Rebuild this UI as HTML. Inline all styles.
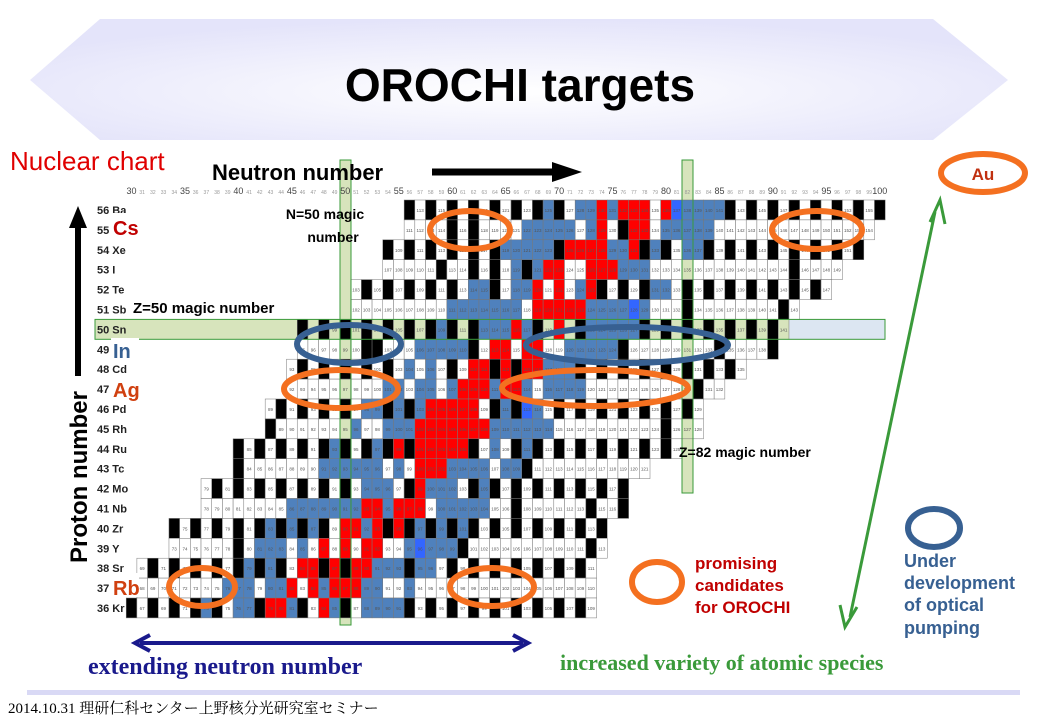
<!DOCTYPE html>
<html><head><meta charset="utf-8"><style>
html,body{margin:0;padding:0;background:#fff;width:1040px;height:720px;overflow:hidden}
svg{display:block}
</style></head><body>
<svg id="s" width="1040" height="720" viewBox="0 0 1040 720" xmlns="http://www.w3.org/2000/svg" font-family="Liberation Sans, sans-serif">
<defs>
<radialGradient id="bg" cx="50%" cy="60%" r="60%">
<stop offset="0" stop-color="#ffffff"/><stop offset="1" stop-color="#e4e4fa"/></radialGradient>
</defs>
<polygon points="100,19 933,19 1008,80 933,140 100,140 30,80" fill="url(#bg)"/>
<text x="520" y="101" font-size="46" font-weight="bold" text-anchor="middle">OROCHI targets</text>
<g id="cells"></g>
<g id="over"></g>
</svg>
<script>
var s=document.getElementById('cells'),NS='http://www.w3.org/2000/svg';
function el(t,a,p,txt){var e=document.createElementNS(NS,t);for(var k in a)e.setAttribute(k,a[k]);if(txt)e.textContent=txt;(p||s).appendChild(e);return e;}
function L(N){return 340+(N-50)*10.69;}
function T(Z){return 200+(56-Z)*19.9;}
el('rect',{x:340,y:160,width:11,height:465,fill:'#d7e4bc'});
el('rect',{x:682,y:160,width:11,height:333,fill:'#d7e4bc'});
el('rect',{x:95,y:T(50),width:790,height:19.9,fill:'#d7e4bc'});
el('rect',{x:L(92),y:T(50),width:885-L(92),height:19.9,fill:'#dce6f2'});
for(var N=30;N<=100;N++){var b=N%5==0;el('text',{x:L(N)+5.3,y:194,'font-size':b?9:5,'text-anchor':'middle',fill:b?'#444':'#999'},null,''+N);}
var rows={56:[56,100],55:[56,99],54:[54,98],53:[54,96],52:[51,95],51:[51,92],50:[46,91],49:[46,90],48:[45,87],47:[45,85],46:[43,83],45:[43,83],44:[40,81],43:[40,78],42:[37,76],41:[37,76],40:[34,74],39:[34,74],38:[31,73],37:[31,73],36:[30,73]};
var seed=11;function r(){seed=(seed*1103515245+12345)%2147483648;return seed/2147483648;}
var names={56:'Ba',55:'',54:'Xe',53:'I',52:'Te',51:'Sb',50:'Sn',49:'',48:'Cd',47:'',46:'Pd',45:'Rh',44:'Ru',43:'Tc',42:'Mo',41:'Nb',40:'Zr',39:'Y',38:'Sr',37:'',36:'Kr'};
for(var Z=56;Z>=36;Z--){
 var y=T(Z);el('text',{x:97,y:y+14,'font-size':11,'font-weight':'bold',fill:'#222'},null,Z+' '+names[Z]);
 var nc=46+(Z-36)*1.55;
 for(var N=rows[Z][0];N<=rows[Z][1];N++){
  var d=Math.abs(N-nc),c;var rr=r();
  var stable=(Z%2==0&&N%2==0);
  if(d<=3.5&&rr<0.6)c='#ff0000';
  else if(d<=9.5&&rr<0.75&&!(stable&&r()<0.5))c=(r()<0.03?'#3366ff':'#4f81bd');
  else if(stable)c='#000';
  else if(Z%2==1&&r()<0.08)c='#000';
  else c=(Z==50||N==50||N==82)?'#d7e4bc':'#fff';
  el('rect',{x:L(N),y:y,width:10.69,height:19.9,fill:c,stroke:'#777','stroke-width':0.5});
  if(c!='#000')el('text',{x:L(N)+5.3,y:y+12,'font-size':4.5,'text-anchor':'middle',fill:'#555'},null,''+(N+Z));
 }
}
var o=document.getElementById('over');
el('rect',{x:340,y:160,width:11,height:465,fill:'none',stroke:'#3a9a3a','stroke-width':1},o);
el('rect',{x:682,y:160,width:11,height:333,fill:'none',stroke:'#3a9a3a','stroke-width':1},o);
el('rect',{x:95,y:T(50),width:790,height:19.9,fill:'none',stroke:'#3a9a3a','stroke-width':1},o);
var ov='<text x="10" y="170" font-size="26" fill="#e00000">Nuclear chart</text>'+
'<text x="212" y="180" font-size="22" font-weight="bold">Neutron number</text>'+
'<line x1="432" y1="172" x2="555" y2="172" stroke="#000" stroke-width="7"/><polygon points="552,162 582,172 552,182" fill="#000"/>'+
'<text x="325" y="219" font-size="14" font-weight="bold" text-anchor="middle">N=50 magic</text><text x="333" y="242" font-size="14" font-weight="bold" text-anchor="middle">number</text>'+
'<text x="133" y="313" font-size="15" font-weight="bold">Z=50 magic number</text>'+
'<text x="679" y="457" font-size="14" font-weight="bold">Z=82 magic number</text>'+
'<rect x="111" y="213" width="28" height="22" fill="#fff"/><text x="113" y="235" font-size="20" font-weight="bold" fill="#c00000">Cs</text>'+
'<rect x="111" y="338" width="28" height="24" fill="#fff"/><text x="113" y="358" font-size="20" font-weight="bold" fill="#376092">In</text>'+
'<text x="113" y="397" font-size="20" font-weight="bold" fill="#d04010">Ag</text>'+
'<rect x="111" y="573" width="28" height="24" fill="#fff"/><text x="113" y="595" font-size="20" font-weight="bold" fill="#d04010">Rb</text>'+
'<g fill="none" stroke-width="6">'+
'<ellipse cx="470" cy="230" rx="40" ry="19" stroke="#f47020"/>'+
'<ellipse cx="817" cy="230" rx="45" ry="19" stroke="#f47020"/>'+
'<ellipse cx="349" cy="344" rx="52" ry="19" stroke="#376092"/>'+
'<ellipse cx="627" cy="345" rx="101" ry="18" stroke="#376092"/>'+
'<ellipse cx="341" cy="389" rx="57" ry="19" stroke="#f47020"/>'+
'<ellipse cx="595" cy="388" rx="93" ry="18" stroke="#f47020"/>'+
'<ellipse cx="202" cy="587" rx="33" ry="19" stroke="#f47020"/>'+
'<ellipse cx="492" cy="587" rx="42" ry="19" stroke="#f47020"/>'+
'<ellipse cx="983" cy="173" rx="42" ry="19" stroke="#f47020"/>'+
'<ellipse cx="657" cy="582" rx="25" ry="20" stroke="#f47020"/>'+
'<ellipse cx="934" cy="528" rx="26" ry="19" stroke="#376092"/></g>'+
'<text x="983" y="180" font-size="17" font-weight="bold" fill="#c03010" text-anchor="middle">Au</text>'+
'<line x1="78" y1="225" x2="78" y2="376" stroke="#000" stroke-width="6"/><polygon points="69,228 78,206 87,228" fill="#000"/>'+
'<text transform="translate(87,563) rotate(-90)" font-size="24" font-weight="bold">Proton number</text>'+
'<line x1="935" y1="212" x2="850" y2="617" stroke="#3a9a3a" stroke-width="3"/>'+
'<polyline points="930,222 940,200 945,224" fill="none" stroke="#3a9a3a" stroke-width="3"/>'+
'<polyline points="840,605 845,627 857,607" fill="none" stroke="#3a9a3a" stroke-width="3"/>'+
'<line x1="140" y1="643" x2="523" y2="643" stroke="#1a1a8c" stroke-width="4"/>'+
'<polyline points="150,635 135,643 150,651" fill="none" stroke="#1a1a8c" stroke-width="4"/>'+
'<polyline points="513,635 528,643 513,651" fill="none" stroke="#1a1a8c" stroke-width="4"/>'+
'<g font-size="17" font-weight="bold" fill="#c00000"><text x="695" y="569">promising</text><text x="695" y="591">candidates</text><text x="695" y="613">for OROCHI</text></g>'+
'<g font-size="18" font-weight="bold" fill="#376092"><text x="904" y="567">Under</text><text x="904" y="589">development</text><text x="904" y="611">of  optical</text><text x="904" y="634">pumping</text></g>'+
'<text x="88" y="674" font-size="24" font-weight="bold" fill="#1a1a8c" font-family="Liberation Serif, serif">extending neutron number</text>'+
'<text x="560" y="670" font-size="22" font-weight="bold" fill="#3a9a3a" font-family="Liberation Serif, serif">increased variety of atomic species</text>'+
'<rect x="27" y="690" width="993" height="5" fill="#d9d9f5"/>'+
'<text x="8" y="713" font-size="15" font-family="Liberation Serif, Noto Serif CJK SC, serif">2014.10.31 理研仁科センター上野核分光研究室セミナー</text>';
o.insertAdjacentHTML('beforeend',ov);
</script>
</body></html>
